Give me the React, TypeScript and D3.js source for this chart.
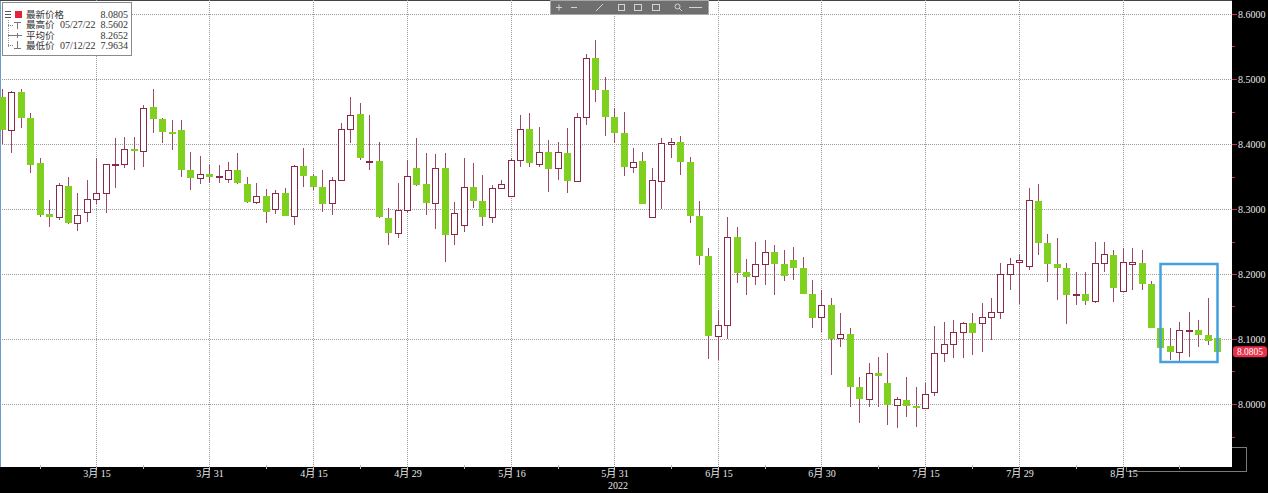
import React from "react";
import * as d3 from "d3";

const W = 1268;
const H = 493;
const plotRight = 1232;
const plotBottom = 467;

// trading days: every weekday from 1 Mar to 29 Aug 2022
const tradingDays = d3.timeDay
  .range(new Date(2022, 2, 1), new Date(2022, 7, 30))
  .filter((d) => d.getDay() !== 0 && d.getDay() !== 6);

const opens = [
  8.4728, 8.4215, 8.4805, 8.4405, 8.3712, 8.2918, 8.2882, 8.3354, 8.278, 8.295,
  8.3154, 8.3246, 8.367, 8.3692, 8.3923, 8.3897, 8.4574, 8.438, 8.419, 8.4215,
  8.36, 8.3482, 8.3534, 8.3488, 8.3457, 8.36, 8.338, 8.3103, 8.32, 8.3,
  8.3241, 8.2897, 8.3662, 8.3508, 8.3333, 8.3087, 8.3446, 8.4226, 8.4457, 8.373,
  8.3738, 8.2867, 8.2626, 8.2985, 8.3636, 8.3385, 8.3097, 8.3636, 8.262, 8.275,
  8.3343, 8.3128, 8.2882, 8.3318, 8.3205, 8.3754, 8.4226, 8.3692, 8.3882, 8.3626,
  8.3867, 8.3436, 8.442, 8.5318, 8.4831, 8.442, 8.4174, 8.365, 8.3738, 8.2872,
  8.3436, 8.4005, 8.4026, 8.3728, 8.2892, 8.2282, 8.1046, 8.1215, 8.2574, 8.2036,
  8.1969, 8.2154, 8.2333, 8.2154, 8.2215, 8.2087, 8.1692, 8.1344, 8.1523, 8.1011,
  8.1077, 8.0257, 8.0077, 8.0482, 8.0328, 7.9985, 8.0062, 7.9969, 7.9934, 8.0189,
  8.0789, 8.0923, 8.1103, 8.1241, 8.1251, 8.1333, 8.141, 8.1995, 8.218, 8.2128,
  8.3123, 8.2472, 8.2149, 8.2097, 8.168, 8.1692, 8.1585, 8.2164, 8.2292, 8.1738,
  8.2149, 8.2164, 8.1841, 8.1164, 8.0897, 8.0805, 8.1128, 8.1138, 8.1062, 8.101,
];

const highs = [
  8.485, 8.4815, 8.485, 8.448, 8.378, 8.3138, 8.34, 8.3497, 8.3246, 8.3446,
  8.378, 8.37, 8.409, 8.411, 8.411, 8.46, 8.4841, 8.44, 8.437, 8.437,
  8.388, 8.3815, 8.3677, 8.3677, 8.3728, 8.3866, 8.3487, 8.3405, 8.3303, 8.3292,
  8.3318, 8.3677, 8.3933, 8.354, 8.36, 8.3497, 8.4318, 8.4728, 8.4636, 8.4446,
  8.4036, 8.301, 8.3395, 8.3754, 8.4087, 8.3856, 8.3846, 8.3866, 8.3113, 8.378,
  8.3703, 8.3523, 8.337, 8.3446, 8.378, 8.4446, 8.4472, 8.4267, 8.4062, 8.4036,
  8.4241, 8.4482, 8.5385, 8.5602, 8.5036, 8.455, 8.4497, 8.3933, 8.3882, 8.3626,
  8.4087, 8.4087, 8.4123, 8.3805, 8.3128, 8.2395, 8.1446, 8.2882, 8.2718, 8.2226,
  8.2497, 8.2523, 8.2446, 8.2369, 8.241, 8.2267, 8.1908, 8.1754, 8.1626, 8.1395,
  8.1164, 8.042, 8.0636, 8.0728, 8.078, 8.0113, 8.042, 8.0267, 8.0318, 8.12,
  8.1267, 8.1292, 8.1267, 8.1405, 8.155, 8.1626, 8.2164, 8.2241, 8.23, 8.3328,
  8.338, 8.261, 8.2549, 8.2164, 8.2036, 8.2036, 8.2497, 8.2497, 8.2369, 8.2395,
  8.2395, 8.2369, 8.19, 8.1343, 8.1164, 8.1267, 8.142, 8.1292, 8.1636, 8.101,
];

const lows = [
  8.4, 8.386, 8.425, 8.355, 8.288, 8.2728, 8.283, 8.277, 8.2666, 8.2805,
  8.3077, 8.294, 8.332, 8.363, 8.36, 8.3646, 8.4164, 8.401, 8.39, 8.35,
  8.3292, 8.3385, 8.34, 8.3405, 8.3395, 8.338, 8.309, 8.3072, 8.278, 8.2923,
  8.289, 8.2754, 8.3343, 8.3292, 8.2959, 8.2908, 8.344, 8.401, 8.376, 8.36,
  8.286, 8.2446, 8.2549, 8.2934, 8.336, 8.2908, 8.27, 8.2185, 8.245, 8.265,
  8.3015, 8.274, 8.278, 8.331, 8.32, 8.365, 8.364, 8.364, 8.3267, 8.3446,
  8.3241, 8.342, 8.4292, 8.4651, 8.4123, 8.401, 8.3508, 8.355, 8.3077, 8.2857,
  8.2995, 8.378, 8.3523, 8.278, 8.2138, 8.0688, 8.0677, 8.0995, 8.1856, 8.1677,
  8.183, 8.183, 8.1677, 8.1897, 8.1908, 8.1687, 8.1164, 8.1113, 8.0446, 8.0882,
  7.9959, 7.9703, 7.9959, 7.996, 7.9677, 7.9634, 7.9805, 7.965, 7.9934, 8.0123,
  8.0651, 8.0703, 8.0703, 8.0754, 8.0805, 8.0985, 8.1303, 8.1754, 8.1538, 8.2062,
  8.2292, 8.1882, 8.16, 8.1226, 8.1523, 8.152, 8.155, 8.2036, 8.1574, 8.173,
  8.1754, 8.1754, 8.1164, 8.0703, 8.0677, 8.0651, 8.0728, 8.0882, 8.0908, 8.0805,
];

const closes = [
  8.4215, 8.4805, 8.4395, 8.3677, 8.2908, 8.2882, 8.3369, 8.2789, 8.2908, 8.3154,
  8.3246, 8.3688, 8.369, 8.3923, 8.3897, 8.4559, 8.438, 8.418, 8.4154, 8.36,
  8.3482, 8.3538, 8.3488, 8.3515, 8.36, 8.3395, 8.3103, 8.32, 8.2949, 8.325,
  8.2892, 8.3662, 8.3513, 8.3343, 8.3072, 8.3446, 8.4226, 8.4446, 8.378, 8.3745,
  8.2872, 8.2636, 8.2985, 8.3508, 8.337, 8.3097, 8.3636, 8.26, 8.2943, 8.3343,
  8.3128, 8.2882, 8.3318, 8.3385, 8.3754, 8.4226, 8.3703, 8.3882, 8.361, 8.3882,
  8.3436, 8.442, 8.5318, 8.4831, 8.4411, 8.4174, 8.365, 8.3728, 8.3077, 8.3446,
  8.401, 8.4026, 8.3718, 8.2892, 8.2282, 8.1046, 8.1215, 8.2574, 8.202, 8.1959,
  8.2154, 8.2333, 8.2154, 8.1974, 8.2087, 8.1687, 8.1318, 8.1523, 8.0995, 8.1077,
  8.0257, 8.0077, 8.0472, 8.0431, 7.9985, 8.0072, 7.9969, 7.995, 8.0149, 8.0789,
  8.0923, 8.1113, 8.1241, 8.1087, 8.1333, 8.141, 8.1995, 8.2154, 8.2215, 8.3138,
  8.2472, 8.2149, 8.2097, 8.1677, 8.1692, 8.1585, 8.2164, 8.2303, 8.178, 8.218,
  8.218, 8.1841, 8.1164, 8.0866, 8.0805, 8.1138, 8.1138, 8.1062, 8.0974, 8.0805,
];

const yTicks = [8.0, 8.1, 8.2, 8.3, 8.4, 8.5, 8.6];
const yMinorTicks = [7.95, 8.05, 8.15, 8.25, 8.35, 8.45, 8.55];

const xTickDates = [
  "2022-03-15", "2022-03-31", "2022-04-15", "2022-04-29", "2022-05-16", "2022-05-31",
  "2022-06-15", "2022-06-30", "2022-07-15", "2022-07-29", "2022-08-15",
];
const xMinorDates = [
  "2022-03-07", "2022-03-22", "2022-04-08", "2022-04-22", "2022-05-09", "2022-05-23",
  "2022-06-08", "2022-06-22", "2022-07-08", "2022-07-22", "2022-08-08", "2022-08-23",
];
const yearLabel = { date: "2022-05-31", text: "2022" };

const legendRows = [
  { name: "最新价格", date: "", value: "8.0805" },
  { name: "最高价", date: "05/27/22", value: "8.5602" },
  { name: "平均价", date: "", value: "8.2652" },
  { name: "最低价", date: "07/12/22", value: "7.9634" },
];

const lastPrice = 8.0805;
const highlight = { from: "2022-08-19", to: "2022-08-29", top: 8.215, bottom: 8.064 };

const UP_STROKE = "#8a2848";
const WICK = "#9a4a66";
const DOWN_FILL = "#80d020";
const GRID = "#9a9a9a";
const NUM_FONT = "'Liberation Serif', 'Noto Sans CJK SC', serif";
const CJK_FONT = "'Noto Sans CJK SC', 'Liberation Serif', sans-serif";

const fmtKey = d3.timeFormat("%Y-%m-%d");
const parseKey = d3.timeParse("%Y-%m-%d");

const candles = tradingDays.map((d, i) => ({
  key: fmtKey(d),
  open: opens[i],
  high: highs[i],
  low: lows[i],
  close: closes[i],
}));

const App: React.FC = () => {
  const x = d3
    .scalePoint<string>()
    .domain(candles.map((c) => c.key))
    .range([2, 1217]);
  const y = d3.scaleLinear().domain([7.9, 8.6]).range([469, 14]);
  const px = (k: string) => Math.round(x(k) as number);

  const dayLabel = (k: string) => {
    const d = parseKey(k) as Date;
    return `${d.getMonth() + 1}月 ${d.getDate()}`;
  };

  const hx0 = px(highlight.from) + 0.5;
  const hx1 = px(highlight.to) + 0.5;

  return (
    <svg
      width={W}
      height={H}
      style={{ position: "absolute", left: 0, top: 0, display: "block" }}
    >
      <defs>
        <clipPath id="plot-clip">
          <rect x={0} y={0} width={plotRight} height={plotBottom} />
        </clipPath>
      </defs>
      <rect x={0} y={0} width={W} height={H} fill="#000" />

      {/* partly hidden panel button bottom right */}
      <rect x={1126.5} y={447.5} width={120} height={24} fill="none" stroke="#7a7a7a" />

      <rect x={0} y={0} width={plotRight} height={plotBottom} fill="#fff" />
      <line x1={0.5} x2={0.5} y1={0} y2={plotBottom} stroke="#6a9ccc" />
      <line x1={0} x2={plotRight} y1={0.5} y2={0.5} stroke="#444" />

      {/* grid */}
      <g stroke={GRID} strokeDasharray="1,1">
        {yTicks.map((t) => (
          <line key={t} x1={0} x2={plotRight} y1={Math.round(y(t)) + 0.5} y2={Math.round(y(t)) + 0.5} />
        ))}
        {xTickDates.map((k) => (
          <line key={k} x1={px(k) + 0.5} x2={px(k) + 0.5} y1={0} y2={plotBottom} />
        ))}
      </g>

      {/* candles */}
      <g clipPath="url(#plot-clip)">
        {candles.map((c) => {
          const cx = px(c.key);
          const up = c.close >= c.open;
          const top = Math.round(y(Math.max(c.open, c.close)));
          const bot = Math.round(y(Math.min(c.open, c.close)));
          return (
            <g key={c.key}>
              <line
                x1={cx + 0.5}
                x2={cx + 0.5}
                y1={Math.round(y(c.high))}
                y2={Math.round(y(c.low))}
                stroke={WICK}
              />
              {up ? (
                <rect
                  x={cx - 2.5}
                  y={top + 0.5}
                  width={6}
                  height={Math.max(1, bot - top)}
                  fill="#fff"
                  stroke={UP_STROKE}
                />
              ) : (
                <rect
                  x={cx - 3}
                  y={top}
                  width={7}
                  height={Math.max(2, bot - top)}
                  fill={DOWN_FILL}
                />
              )}
            </g>
          );
        })}
      </g>

      {/* highlight box */}
      <rect
        x={hx0}
        y={Math.round(y(highlight.top))}
        width={hx1 - hx0}
        height={Math.round(y(highlight.bottom)) - Math.round(y(highlight.top))}
        fill="none"
        stroke="#45a0e0"
        strokeWidth={2.5}
      />

      {/* legend */}
      <g>
        <rect x={2.5} y={2.5} width={129} height={53} fill="#fff" stroke="#8a8a8a" />
        <g stroke="#555">
          <line x1={5} x2={11} y1={11.5} y2={11.5} />
          <line x1={5} x2={11} y1={14.5} y2={14.5} />
          <line x1={5} x2={11} y1={17.5} y2={17.5} />
        </g>
        <rect x={15} y={11} width={7} height={7} fill="#e8203a" />
        <line x1={8.5} x2={8.5} y1={20} y2={47} stroke="#999" strokeDasharray="1,1" />
        <g stroke="#777">
          <line x1={8} x2={13} y1={25.5} y2={25.5} strokeDasharray="1,1" />
          <line x1={14} x2={21} y1={22.5} y2={22.5} />
          <line x1={17.5} x2={17.5} y1={22} y2={29} />
          <line x1={8} x2={22} y1={35.5} y2={35.5} />
          <line x1={17.5} x2={17.5} y1={33} y2={38} />
          <line x1={8} x2={13} y1={45.5} y2={45.5} strokeDasharray="1,1" />
          <line x1={17.5} x2={17.5} y1={41} y2={48} />
          <line x1={14} x2={21} y1={48.5} y2={48.5} />
        </g>
        {legendRows.map((r, i) => {
          const by = 17.5 + i * 10.5;
          return (
            <g key={r.name} fill="#333">
              <text x={26} y={by} fontSize={9.5} fontFamily={CJK_FONT}>
                {r.name}
              </text>
              {r.date && (
                <text x={60} y={by} fontSize={10} fontFamily={NUM_FONT}>
                  {r.date}
                </text>
              )}
              <text x={128} y={by} textAnchor="end" fontSize={10} fontFamily={NUM_FONT}>
                {r.value}
              </text>
            </g>
          );
        })}
      </g>

      {/* toolbar */}
      <g>
        <rect x={550.5} y={0.5} width={158} height={14} fill="#6f6f6f" stroke="#a8a8a8" />
        <g stroke="#d4d4d4" fill="none">
          <line x1={556} x2={562} y1={7.5} y2={7.5} />
          <line x1={559} x2={559} y1={4.5} y2={10.5} />
          <line x1={571} x2={577} y1={7.5} y2={7.5} />
          <line x1={596} x2={603} y1={11} y2={4} />
          <rect x={618.5} y={4.5} width={6} height={6} />
          <rect x={634.5} y={4.5} width={7} height={6} />
          <rect x={652.5} y={4.5} width={7} height={6} />
          <circle cx={677.5} cy={6.5} r={2.5} />
          <line x1={679} x2={682} y1={8} y2={11} />
          <line x1={689} x2={702} y1={7.5} y2={7.5} />
        </g>
      </g>

      {/* right axis */}
      <g>
        {yMinorTicks.map((t) => (
          <line key={t} x1={plotRight} x2={plotRight + 3} y1={Math.round(y(t)) + 0.5} y2={Math.round(y(t)) + 0.5} stroke="#d0284a" />
        ))}
        {yTicks.map((t) => (
          <g key={t}>
            <line x1={plotRight} x2={plotRight + 5} y1={Math.round(y(t)) + 0.5} y2={Math.round(y(t)) + 0.5} stroke="#d0284a" />
            <text x={1238} y={y(t)} dy="0.35em" fill="#e8e8e8" fontSize={10} fontFamily={NUM_FONT}>
              {d3.format(".4f")(t)}
            </text>
          </g>
        ))}
        <rect x={1233} y={y(lastPrice) - 5.5} width={34} height={11} rx={3} fill="#e8304a" />
        <text
          x={1250}
          y={y(lastPrice)}
          dy="0.35em"
          textAnchor="middle"
          fill="#fff"
          fontSize={9.5}
          fontFamily={NUM_FONT}
        >
          {d3.format(".4f")(lastPrice)}
        </text>
      </g>

      {/* bottom axis */}
      <g>
        {xMinorDates.map((k) => (
          <line key={k} x1={px(k) + 0.5} x2={px(k) + 0.5} y1={plotBottom - 2} y2={plotBottom + 2} stroke="#bbb" />
        ))}
        {xTickDates.map((k) => (
          <g key={k}>
            <line x1={px(k) + 0.5} x2={px(k) + 0.5} y1={plotBottom} y2={plotBottom + 3} stroke="#bbb" />
            <text
              x={px(k) + 1}
              y={477}
              textAnchor="middle"
              fill="#e8e8e8"
              fontSize={10}
              fontFamily={NUM_FONT}
            >
              {dayLabel(k)}
            </text>
          </g>
        ))}
        <text
          x={px(yearLabel.date) + 4}
          y={489}
          textAnchor="middle"
          fill="#e8e8e8"
          fontSize={10}
          fontFamily={NUM_FONT}
        >
          {yearLabel.text}
        </text>
      </g>
    </svg>
  );
};

export default App;
